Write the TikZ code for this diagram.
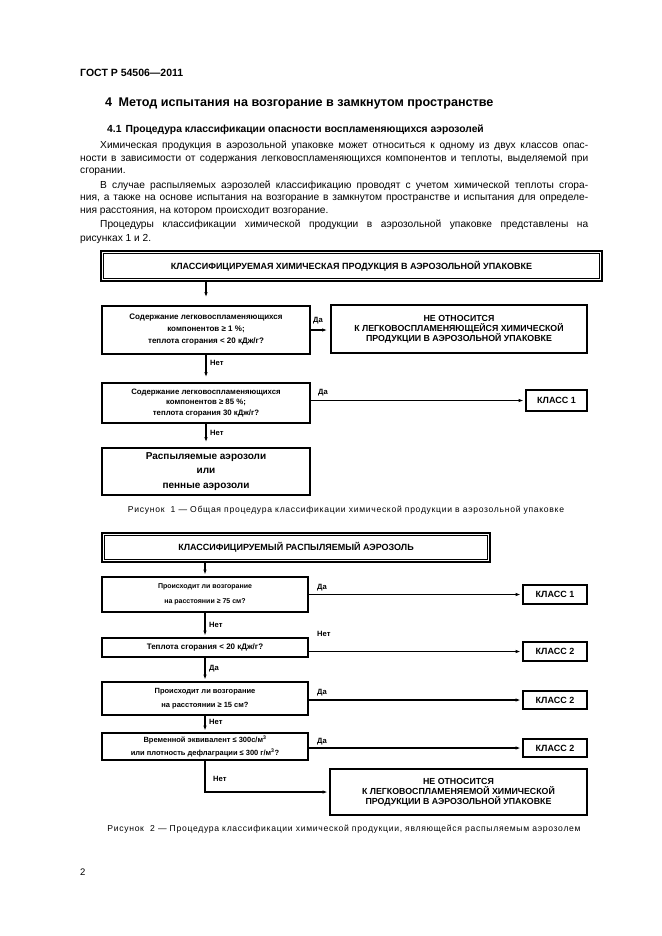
\documentclass[tikz,border=0pt]{standalone}
\usepackage{fontspec}
\setmainfont{Liberation Sans}
\usetikzlibrary{arrows.meta}
\tikzset{
  box/.style={draw, line width=1.8pt, align=center, inner sep=1pt},
  arr/.style={-{Latex[length=5pt,width=3.5pt]}, line width=1.3pt, shorten >=1.5pt},
  lbl/.style={anchor=west, inner sep=0pt, font=\bfseries\fontsize{7.6}{8}\selectfont},
  txt/.style={anchor=west, inner sep=0pt, font=\fontsize{10.2}{12}\selectfont},
  figcap/.style={inner sep=0pt, font=\fontsize{8.6}{10}\selectfont\addfontfeatures{LetterSpace=8}},
  innerframe/.style={line width=0.9pt},
  kbox/.style={box, font=\bfseries\fontsize{9}{10}\selectfont}
}
\begin{document}
\begin{tikzpicture}[x=1pt,y=-1pt]
\useasboundingbox (0,0) rectangle (661,936);
\fill[white] (0,0) rectangle (661,936);

% ---- header ----
\node[anchor=west, inner sep=0pt, font=\bfseries\fontsize{10.5}{12}\selectfont] (gost) at (80,73) {ГОСТ Р 54506—2011};
\node[anchor=west, inner sep=0pt, font=\bfseries\fontsize{12.6}{15}\selectfont] (h4) at (105,103) {4\hspace{0.5em}Метод испытания на возгорание в замкнутом пространстве};
\node[anchor=west, inner sep=0pt, font=\bfseries\fontsize{10.3}{12}\selectfont] (h41) at (107,130) {4.1\hspace{0.4em}Процедура классификации опасности воспламеняющихся аэрозолей};

\node[txt] (p1) at (100,146) {\makebox[488pt][s]{Химическая продукция в аэрозольной упаковке может относиться к одному из двух классов опас-}};
\node[txt] (p2) at (80,159) {\makebox[508pt][s]{ности в зависимости от содержания легковоспламеняющихся компонентов и теплоты, выделяемой при}};
\node[txt] (p3) at (80,172) {сгорании.};
\node[txt] (p4) at (100,186) {\makebox[488pt][s]{В случае распыляемых аэрозолей классификацию проводят с учетом химической теплоты сгора-}};
\node[txt] (p5) at (80,199) {\makebox[508pt][s]{ния, а также на основе испытания на возгорание в замкнутом пространстве и испытания для определе-}};
\node[txt] (p6) at (80,212) {ния расстояния, на котором происходит возгорание.};
\node[txt] (p7) at (100,225) {\makebox[488pt][s]{Процедуры классификации химической продукции в аэрозольной упаковке представлены на}};
\node[txt] (p8) at (80,239) {рисунках 1 и 2.};

% ---- figure 1 ----
\node[box, minimum width=501pt, minimum height=30pt, font=\bfseries\fontsize{9}{10}\selectfont] (T1) at (351.5,266) {КЛАССИФИЦИРУЕМАЯ ХИМИЧЕСКАЯ ПРОДУКЦИЯ В АЭРОЗОЛЬНОЙ УПАКОВКЕ};
\draw[innerframe] ([xshift=3.5pt,yshift=-3.5pt]T1.north west) rectangle ([xshift=-3.5pt,yshift=3.5pt]T1.south east);

\node[box, minimum width=208pt, minimum height=48pt, font=\bfseries\fontsize{8}{12}\selectfont] (Q1) at (206,330) {Содержание легковоспламеняющихся\\ компонентов ≥ 1 \%;\\ теплота сгорания < 20 кДж/г?};
\node[box, minimum width=256pt, minimum height=48pt, font=\bfseries\fontsize{8.8}{10}\selectfont] (N1) at (459,329) {НЕ ОТНОСИТСЯ\\ К ЛЕГКОВОСПЛАМЕНЯЮЩЕЙСЯ ХИМИЧЕСКОЙ\\ ПРОДУКЦИИ В АЭРОЗОЛЬНОЙ УПАКОВКЕ};
\node[box, minimum width=208pt, minimum height=40pt, font=\bfseries\fontsize{7.8}{10.5}\selectfont] (Q2) at (206,403) {Содержание легковоспламеняющихся\\ компонентов ≥ 85 \%;\\ теплота сгорания 30 кДж/г?};
\node[kbox, minimum width=61pt, minimum height=21pt] (K1) at (556.5,400.5) {КЛАСС 1};
\node[box, minimum width=208pt, minimum height=47pt, font=\bfseries\fontsize{10}{14.5}\selectfont] (R) at (206,471.5) {Распыляемые аэрозоли\\ или\\ пенные аэрозоли};

\draw[arr, shorten >=8pt] (T1.south -| Q1.north) -- (Q1.north);
\draw[arr, shorten >=3pt] (Q1.east) -- (Q1.east -| N1.west);
\draw[arr, shorten >=5pt] (Q1.south) -- (Q2.north);
\draw[arr] (K1.west -| Q2.east) -- (K1.west);
\draw[arr, shorten >=5pt] (Q2.south) -- (R.north);

\node[lbl] (y1) at (313,321) {Да};
\node[lbl] (n1) at (210,363) {Нет};
\node[lbl] (y2) at (318,393) {Да};
\node[lbl] (n2) at (210,433) {Нет};

\node[figcap] (cap1) at (346,510) {Рисунок\ \ 1 — Общая процедура классификации химической продукции в аэрозольной упаковке};

% ---- figure 2 ----
\node[box, minimum width=388pt, minimum height=29pt, font=\bfseries\fontsize{9}{10}\selectfont] (T2) at (296,547.5) {КЛАССИФИЦИРУЕМЫЙ РАСПЫЛЯЕМЫЙ АЭРОЗОЛЬ};
\draw[innerframe] ([xshift=3.5pt,yshift=-3.5pt]T2.north west) rectangle ([xshift=-3.5pt,yshift=3.5pt]T2.south east);

\node[box, minimum width=206pt, minimum height=35pt, font=\bfseries\fontsize{7}{15}\selectfont] (A) at (205,594.5) {Происходит ли возгорание\\ на расстоянии ≥ 75 см?};
\node[kbox, minimum width=64pt, minimum height=19pt] (KA) at (555,594.5) {КЛАСС 1};
\node[box, minimum width=206pt, minimum height=19pt, font=\bfseries\fontsize{8}{10}\selectfont] (B) at (205,647.5) {Теплота сгорания < 20 кДж/г?};
\node[kbox, minimum width=64pt, minimum height=19pt] (KB) at (555,651.5) {КЛАСС 2};
\node[box, minimum width=206pt, minimum height=33pt, font=\bfseries\fontsize{7.5}{14}\selectfont] (C) at (205,698.5) {Происходит ли возгорание\\ на расстоянии ≥ 15 см?};
\node[kbox, minimum width=64pt, minimum height=18pt] (KC) at (555,700) {КЛАСС 2};
\node[box, minimum width=206pt, minimum height=27pt, font=\bfseries\fontsize{7.5}{13}\selectfont] (D) at (205,746.5) {Временной эквивалент ≤ 300с/м\textsuperscript{3}\\ или плотность дефлаграции ≤ 300 г/м\textsuperscript{3}?};
\node[kbox, minimum width=64pt, minimum height=18pt] (KD) at (555,748) {КЛАСС 2};
\node[box, minimum width=257pt, minimum height=46pt, font=\bfseries\fontsize{8.8}{10}\selectfont] (N2) at (458.5,792) {НЕ ОТНОСИТСЯ\\ К ЛЕГКОВОСПЛАМЕНЯЕМОЙ ХИМИЧЕСКОЙ\\ ПРОДУКЦИИ В АЭРОЗОЛЬНОЙ УПАКОВКЕ};

\draw[arr] (T2.south -| A.north) -- (A.north);
\draw[arr] (KA.west -| A.east) -- (KA.west);
\draw[arr] (A.south) -- (B.north);
\draw[arr] (KB.west -| B.east) -- (KB.west);
\draw[arr] (B.south) -- (C.north);
\draw[arr] (KC.west -| C.east) -- (KC.west);
\draw[arr] (C.south) -- (D.north);
\draw[arr] (KD.west -| D.east) -- (KD.west);
\draw[arr] (D.south) |- (N2.west);

\node[lbl] (y3) at (317,588) {Да};
\node[lbl] (n3) at (209,625) {Нет};
\node[lbl] (n4) at (317,634) {Нет};
\node[lbl] (y4) at (209,669) {Да};
\node[lbl] (y5) at (317,693) {Да};
\node[lbl] (n5) at (209,722) {Нет};
\node[lbl] (y6) at (317,742) {Да};
\node[lbl] (n6) at (213,779) {Нет};

\node[figcap] (cap2) at (344,829) {Рисунок\ \ 2 — Процедура классификации химической продукции, являющейся распыляемым аэрозолем};

\node[anchor=west, inner sep=0pt, font=\fontsize{9.5}{11}\selectfont] (pg) at (80,872) {2};
\end{tikzpicture}
\end{document}
